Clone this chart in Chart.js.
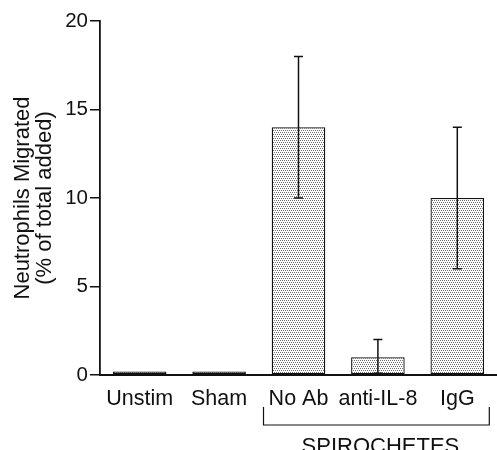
<!DOCTYPE html>
<html>
<head>
<meta charset="utf-8">
<script src="https://cdn.jsdelivr.net/npm/chart.js@4"></script>
<style>
  html, body { margin: 0; padding: 0; background: #fff; }
  #wrap { width: 497px; height: 450px; }
</style>
</head>
<body>
<div id="wrap"><canvas id="chart" width="497" height="450"></canvas></div>
<script>
// Neutrophil migration | bar chart with error bars
"use strict";

const categories = ['Unstim', 'Sham', 'No Ab', 'anti-IL-8', 'IgG'];
const migrated = [0.2, 0.2, 14, 1, 10];
const errLow = [null, null, 10, 0.1, 6];
const errHigh = [null, null, 18, 2, 14];
const yTicks = [0, 5, 10, 15, 20];
const groupLabel = 'SPIROCHETES';

const FONT = 'Liberation Sans, Arial, Helvetica, sans-serif';
const INK = '#111';

// stippled fill like the print
function makeStipple() {
    const c = document.createElement('canvas');
    c.width = 4; c.height = 4;
    const g = c.getContext('2d');
    g.fillStyle = '#fff';
    g.fillRect(0, 0, 4, 4);
    g.fillStyle = '#6e6e6e';
    g.fillRect(0, 0, 1, 1);
    g.fillRect(2, 0, 1, 1);
    g.fillRect(1, 2, 1, 1);
    g.fillRect(3, 2, 1, 1);
    return document.getElementById('chart').getContext('2d').createPattern(c, 'repeat');
}

const errorBars = {
    id: 'errorBars',
    afterDatasetsDraw(chart) {
        const ctx = chart.ctx;
        const meta = chart.getDatasetMeta(0);
        const y = chart.scales.y;
        ctx.save();
        ctx.strokeStyle = INK;
        ctx.lineWidth = 1.5;
        meta.data.forEach((bar, i) => {
            if (errHigh[i] == null) return;
            const x = bar.x;
            const top = y.getPixelForValue(errHigh[i]);
            const bot = y.getPixelForValue(errLow[i]);
            ctx.beginPath();
            ctx.moveTo(x, top); ctx.lineTo(x, bot);
            ctx.moveTo(x - 4.5, top); ctx.lineTo(x + 4.5, top);
            ctx.moveTo(x - 4.5, bot); ctx.lineTo(x + 4.5, bot);
            ctx.stroke();
        });
        ctx.restore();
    }
};

const bracket = {
    id: 'bracket',
    afterDraw(chart) {
        const ctx = chart.ctx;
        const xs = chart.scales.x;
        const base = chart.chartArea.bottom;
        const left = xs.getPixelForValue(2) - 35;
        const right = xs.getPixelForValue(4) + 32;
        ctx.save();
        ctx.strokeStyle = INK;
        ctx.lineWidth = 1.2;
        ctx.beginPath();
        ctx.moveTo(left, base + 32);
        ctx.lineTo(left, base + 50);
        ctx.lineTo(right, base + 50);
        ctx.lineTo(right, base + 32);
        ctx.stroke();
        ctx.fillStyle = INK;
        ctx.font = '22px ' + FONT;
        ctx.textAlign = 'center';
        ctx.textBaseline = 'top';
        ctx.fillText(groupLabel, (left + right) / 2 + 4, base + 61);
        ctx.restore();
    }
};

new Chart(document.getElementById('chart'), {
    type: 'bar',
    data: {
        labels: categories,
        datasets: [{
            data: migrated,
            backgroundColor: makeStipple(),
            borderColor: INK,
            borderWidth: 1.3,
            borderSkipped: false,
            categoryPercentage: 1,
            barPercentage: 0.675
        }]
    },
    options: {
        responsive: false,
        animation: false,
        layout: { padding: { top: 21, right: 0, bottom: 0, left: 0 } },
        plugins: { legend: { display: false }, tooltip: { enabled: false } },
        scales: {
            x: {
                afterFit: (s) => { s.height = 75; },
                grid: { display: false, drawTicks: false },
                border: { display: true, color: INK, width: 2 },
                ticks: { color: INK, font: { family: FONT, size: 21.5 }, padding: 11, maxRotation: 0, autoSkip: false }
            },
            y: {
                min: 0,
                max: 20,
                afterFit: (s) => { s.width = 100; },
                afterBuildTicks: (s) => { s.ticks = yTicks.map(v => ({ value: v })); },
                grid: { drawOnChartArea: false, drawTicks: true, tickLength: 10, color: INK, lineWidth: 1.5 },
                border: { display: true, color: INK, width: 1.8 },
                ticks: { color: INK, font: { family: FONT, size: 20.5 }, padding: 2 },
                title: {
                    display: true,
                    text: ['Neutrophils Migrated', '(% of total added)'],
                    color: INK,
                    font: { family: FONT, size: 22, lineHeight: 1.0 },
                    padding: { top: 12 }
                }
            }
        }
    },
    plugins: [errorBars, bracket]
});
</script>
</body>
</html>
